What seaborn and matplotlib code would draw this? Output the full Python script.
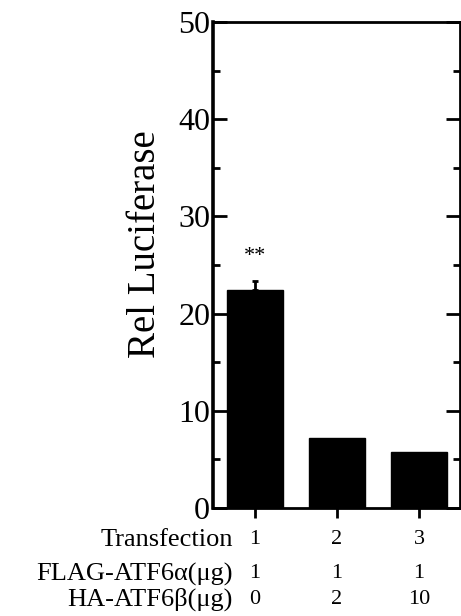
import matplotlib
matplotlib.use("Agg")
import matplotlib.pyplot as plt
import matplotlib.transforms as mtransforms
from matplotlib.ticker import MultipleLocator
import seaborn as sns
import pandas as pd

# Data
transfection = ["1", "2", "3"]
rel_luciferase = [22.4, 7.2, 5.8]
err_upper = [1.0, 0.0, 0.0]
flag_atf6a = ["1", "1", "1"]
ha_atf6b = ["0", "2", "10"]
significance = ["**", "", ""]

sns.set_theme(style="ticks")
plt.rcParams['font.family'] = ['Liberation Serif', 'DejaVu Serif']
plt.rcParams['text.color'] = 'black'
plt.rcParams['axes.labelcolor'] = 'black'
plt.rcParams['xtick.color'] = 'black'
plt.rcParams['ytick.color'] = 'black'

fig = plt.figure(figsize=(4.61, 6.16), dpi=100)
ax = fig.add_axes([213/461, 1-508/616, (460-213)/461, (508-22)/616])

df = pd.DataFrame({"Transfection": transfection, "Rel": rel_luciferase})
sns.barplot(data=df, x="Transfection", y="Rel", color="black", errorbar=None,
            width=0.69, ax=ax, saturation=1)
for p in ax.patches:
    p.set_edgecolor("black")

xs = list(range(len(transfection)))
for x, v, e, s in zip(xs, rel_luciferase, err_upper, significance):
    if e > 0:
        ax.errorbar([x], [v], yerr=[[0], [e]], fmt="none", ecolor="black",
                    elinewidth=2, capsize=2.5, capthick=2)
    if s:
        ax.text(x, v + e + 1.5, s, ha="center", va="bottom", fontsize=16,
                color="black")

ax.set_xlim(-0.51, 2.5)
ax.set_ylim(0, 50)
ax.yaxis.set_major_locator(MultipleLocator(10))
ax.yaxis.set_minor_locator(MultipleLocator(5))
ax.tick_params(axis="y", which="major", direction="in", length=10, width=2,
               left=True, right=True, labelsize=23, pad=2, colors="black")
ax.tick_params(axis="y", which="minor", direction="in", length=5, width=2,
               left=True, right=True)
ax.tick_params(axis="x", which="major", direction="out", length=7, width=2,
               labelbottom=False, pad=0)
ax.set_xlabel("")
ax.set_ylabel("")
for sp in ax.spines.values():
    sp.set_visible(True)
    sp.set_linewidth(2)
    sp.set_color("black")
ax.spines["left"].set_linewidth(2.6)

fig.text(145/461, 1-244/616, "Rel Luciferase", rotation=90, ha="center",
         va="center", fontsize=28, color="black")

trans = mtransforms.blended_transform_factory(ax.transData, fig.transFigure)
rows = [("Transfection", transfection, 540), ("FLAG-ATF6α(μg)", flag_atf6a, 574),
        ("HA-ATF6β(μg)", ha_atf6b, 599)]
for label, vals, ypix in rows:
    yf = 1 - ypix/616
    fig.text(233/461, yf, label, ha="right", va="center", fontsize=19, color="black")
    for x, v in zip(xs, vals):
        ax.text(x, yf, v, transform=trans, ha="center", va="center", fontsize=16,
                color="black")

fig.savefig("out.png", dpi=100)
